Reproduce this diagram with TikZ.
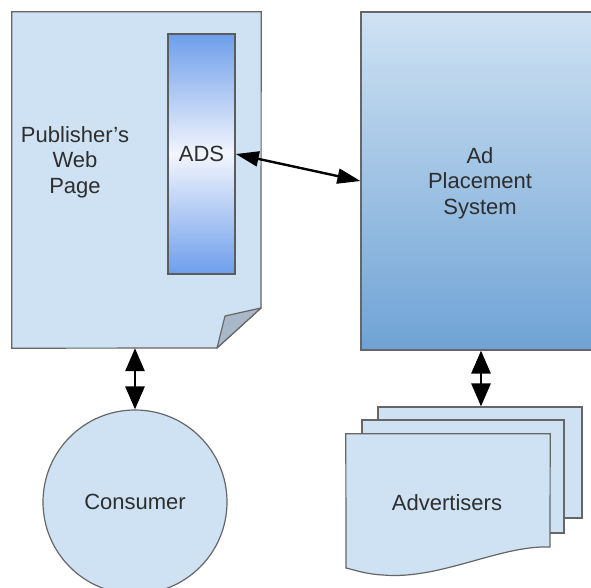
\documentclass[tikz,border=0pt]{standalone}
\usepackage{fontspec}
\setmainfont{Liberation Sans}
\usetikzlibrary{arrows.meta,shapes.geometric}
\definecolor{lblue}{HTML}{CFE2F3}
\definecolor{edge}{HTML}{666666}
\definecolor{foldc}{HTML}{A8B8C8}
\definecolor{adsblue}{HTML}{6D9EEB}
\definecolor{adsmid}{HTML}{F2F5FD}
\definecolor{apsbot}{HTML}{6FA3D5}
\definecolor{txt}{HTML}{2E2E2E}
\tikzset{
  outl/.style={draw=edge, line width=1.2pt},
  lbl/.style={text=txt, font=\fontsize{22}{25.5}\selectfont, align=center, inner sep=0pt},
  dbl/.style={line width=2.8pt, {Triangle[length=23pt,width=19pt]}-{Triangle[length=23pt,width=19pt]}},
  dblh/.style={line width=2.4pt, {Triangle[length=23pt,width=15pt]}-{Triangle[length=23pt,width=15pt]}},
  hole/.style={draw=none, inner sep=0pt, minimum width=#1}
}
\begin{document}
\begin{tikzpicture}[x=1pt,y=-1pt]
\useasboundingbox (0,0) rectangle (591,588);
\clip (0,0) rectangle (591,588);
\fill[white] (0,0) rectangle (591,588);
% Publisher's page
\node[hole=249pt, minimum height=336pt] (pub) at (136.5,180) {};
\draw[outl, fill=lblue] (pub.north west) -- (pub.north east) -- (261,308) -- (217,348) -- (pub.south west) -- cycle;
\draw[outl, fill=foldc, line join=round] (261,308) -- (225,316) -- (217,348) -- cycle;
\node[lbl] (pubtxt) at (75,162) {Publisher’s\\Web\\Page};
% ADS
\node[hole=67pt, minimum height=240pt] (adsbox) at (201.5,154) {};
\shade[top color=adsblue, bottom color=adsmid] (adsbox.north west) rectangle (adsbox.east);
\shade[top color=adsmid, bottom color=adsblue] (adsbox.west) rectangle (adsbox.south east);
\node[draw=edge!90!black, line width=1.6pt, minimum width=67pt, minimum height=240pt, lbl] (ads) at (adsbox) {ADS};
% Ad Placement System
\node[outl, top color=lblue, bottom color=apsbot, minimum width=240pt, minimum height=338pt, inner sep=0pt] (aps) at (481,181) {};
\node[lbl] (apstxt) at (480,183) {Ad\\Placement\\System};
% Consumer
\node[outl, circle, fill=lblue, minimum size=184pt, inner sep=0pt, lbl] (cons) at (135,502) {Consumer};
% Advertisers stack
\node[outl, fill=lblue, minimum width=204pt, minimum height=111pt, inner sep=0pt] (adv3) at (480,462.5) {};
\node[outl, fill=lblue, minimum width=202pt, minimum height=113pt, inner sep=0pt] (adv2) at (463,476.5) {};
\node[hole=204pt, minimum height=134pt] (adv1) at (448,501) {};
\draw[outl, fill=lblue] (adv1.north west) -- (adv1.north east) -- (550,547)
  .. controls (500,545) and (440,580) .. (383,575)
  .. controls (365,574) and (355,570) .. (346,568) -- cycle;
\node[lbl] (advtxt) at (447,503) {Advertisers};
% connectors
\draw[dblh] (ads.east) -- (aps.west);
\draw[dbl] (cons.north |- pub.south) -- (cons.north);
\draw[dbl] (aps.south) -- (aps.south |- adv3.north);
\end{tikzpicture}
\end{document}
